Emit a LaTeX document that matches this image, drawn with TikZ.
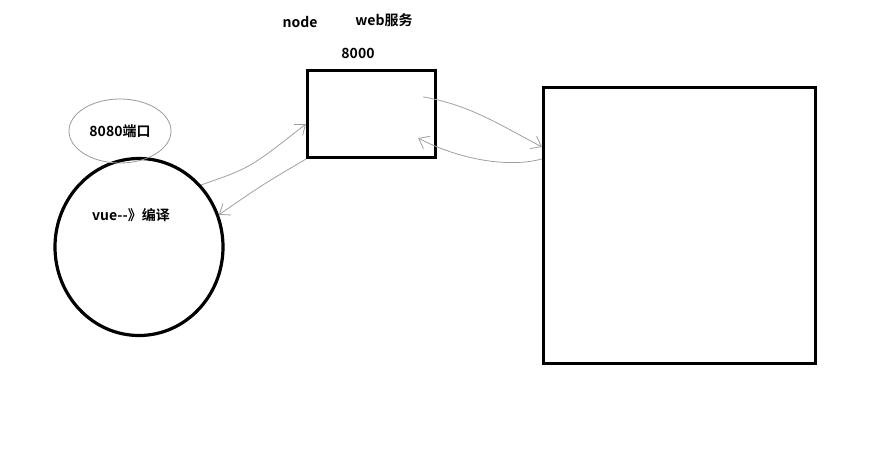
\documentclass[tikz,border=0pt]{standalone}
\usepackage{fontspec}
\newfontfamily\cjk{Noto Sans CJK SC}[BoldFont={* Bold}]
\usetikzlibrary{positioning, arrows.meta, shapes.geometric}

\begin{document}
\begin{tikzpicture}[
    x=1pt, y=-1pt,
    txt/.style={font=\cjk\bfseries\fontsize{14}{16}\selectfont, inner sep=0pt},
    box/.style={draw, line width=3.2pt, inner sep=0pt},
    ring/.style={draw, ellipse, line width=3.2pt, inner sep=0pt},
    blob/.style={draw=gray!80, ellipse, line width=0.8pt, inner sep=0pt, minimum width=102pt, minimum height=64pt},
    pen/.style={gray!75, line width=0.8pt},
    arr/.style={pen, -{Straight Barb[length=9pt, width=14pt]}},
  ]
    \useasboundingbox (0,0) rectangle (888,450);

    % browser side
    \node[ring, minimum width=168pt, minimum height=177pt] (vue) at (139,247) {};
    \node[txt] (vuetext) at (131,215) {vue--》编译};
    \node[blob, font=\cjk\bfseries\fontsize{14}{16}\selectfont] (port) at (120,131) {8080端口};

    % node server
    \node[box, minimum width=128pt, minimum height=87pt] (srv) at (371.5,114) {};
    \node[txt] (srvport) at (358,53) {8000};
    \node[txt] (nodetext) at (300,22) {node};
    \node[txt] (webtext) at (384,20) {web服务};

    % target
    \node[box, minimum width=272pt, minimum height=276pt] (dst) at (679.5,225.5) {};

    % requests
    \draw[arr] (vue.45) .. controls (250,168) .. ([yshift=-10pt]srv.west);
    \draw[arr] (srv.south west) .. controls (262,185) .. (vue.22);
    \draw[arr] ([xshift=-14pt, yshift=-28pt]srv.north east) .. controls (470,105) and (500,125) .. ([yshift=-61pt]dst.north west);
    \draw[arr] ([yshift=-73pt]dst.north west) .. controls (510,168) and (460,160) .. ([xshift=-19pt, yshift=-24pt]srv.east);
\end{tikzpicture}
\end{document}
